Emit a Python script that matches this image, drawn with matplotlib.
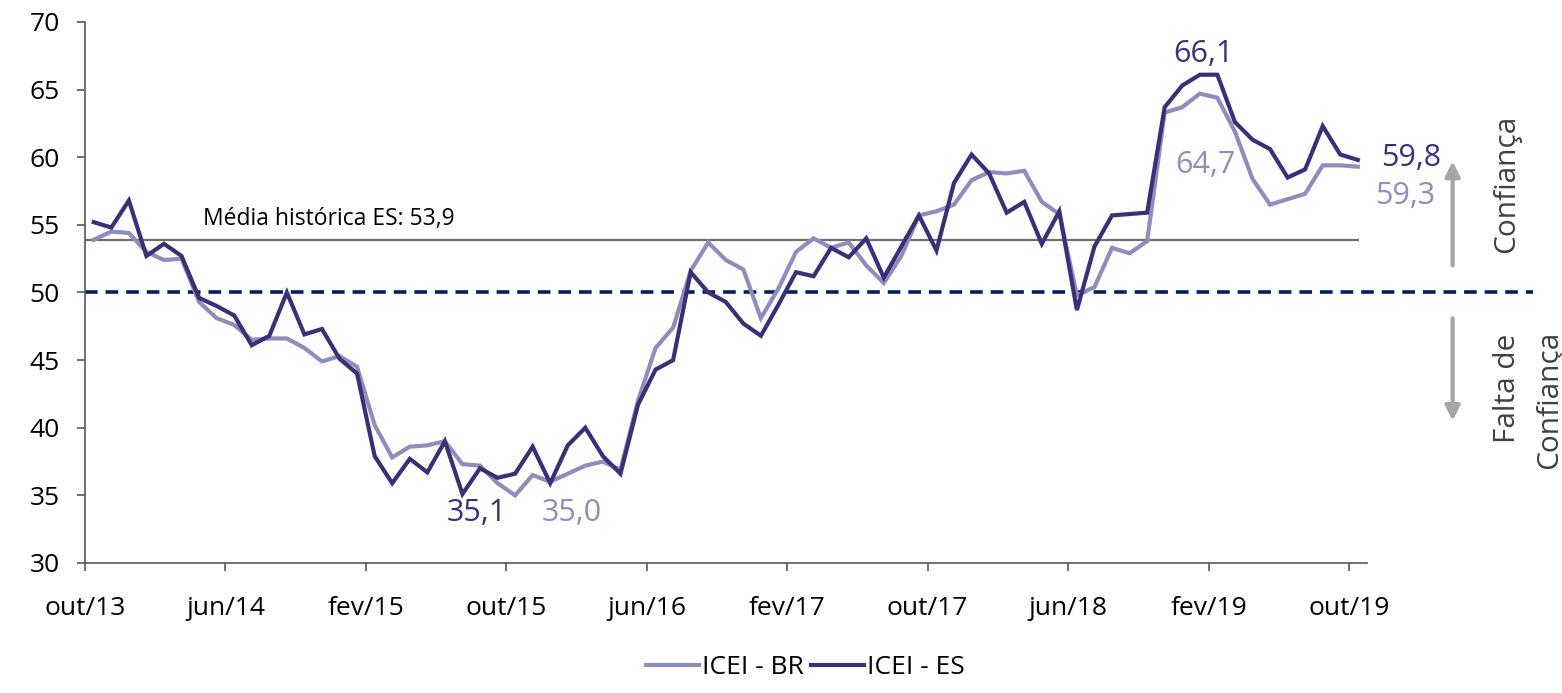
import matplotlib.pyplot as plt
import numpy as np

plt.rcParams['font.family'] = ['Open Sans', 'DejaVu Sans']

# monthly values, out/13 .. out/19
icei_br = [53.9, 54.5, 54.4, 53.0, 52.4, 52.5, 49.3, 48.1, 47.6, 46.5, 46.6, 46.6, 45.9, 44.9, 45.3,
           44.5, 40.2, 37.8, 38.6, 38.7, 39.0, 37.3, 37.2, 35.9, 35.0, 36.5, 36.0, 36.6, 37.2, 37.5,
           36.9, 42.0, 45.9, 47.4, 51.6, 53.7, 52.4, 51.7, 48.1, 50.3, 53.0, 54.0, 53.3, 53.7, 52.0,
           50.7, 52.7, 55.7, 56.0, 56.5, 58.3, 58.9, 58.8, 59.0, 56.7, 55.8, 49.8, 50.4, 53.3,
           52.9, 53.8, 63.3, 63.7, 64.7, 64.4, 61.9, 58.4, 56.5, 56.9, 57.3, 59.4, 59.4, 59.3]
icei_es = [55.2, 54.8, 56.8, 52.7, 53.6, 52.7, 49.6, 49.0, 48.3, 46.1, 46.8, 50.0, 46.9, 47.3, 45.1,
           44.0, 37.9, 35.9, 37.7, 36.7, 39.0, 35.1, 37.0, 36.3, 36.6, 38.6, 35.9, 38.7, 40.0, 37.9,
           36.6, 41.7, 44.3, 45.0, 51.5, 50.0, 49.3, 47.7, 46.8, 49.1, 51.5, 51.2, 53.3, 52.6, 54.0,
           51.1, 53.4, 55.7, 53.1, 58.1, 60.2, 58.8, 55.9, 56.7, 53.6, 56.0, 48.7, 53.4, 55.7,
           55.8, 55.9, 63.7, 65.3, 66.1, 66.1, 62.6, 61.3, 60.6, 58.5, 59.1, 62.3, 60.2, 59.8]
tick_labels = ['out/13', 'jun/14', 'fev/15', 'out/15', 'jun/16', 'fev/17', 'out/17', 'jun/18', 'fev/19', 'out/19']
media_es = 53.9
neutro = 50

c_br = '#8f8dbb'
c_es = '#3b2f78'

fig = plt.figure(figsize=(15.62, 6.93), dpi=100)
ax = fig.add_axes([0.0544, 0.1876, 0.8205, 0.7807])

x = np.arange(len(icei_es))
ax.plot(x, icei_br, color=c_br, lw=3.0, label='ICEI - BR', solid_joinstyle='miter')
ax.plot(x, icei_es, color=c_es, lw=3.0, label='ICEI - ES', solid_joinstyle='miter')

ax.plot([-0.5, 72], [media_es, media_es], color='#707070', lw=1.6, zorder=1)
ax.plot([-0.5, 82.0], [neutro, neutro], color='#002060', lw=2.6, ls=(0, (3.5, 2.2)),
        clip_on=False, zorder=1)

ax.text(6.2, 55.4, 'Média histórica ES: 53,9', fontsize=16.5, va='center', ha='left')

ax.text(63.2, 67.6, '66,1', color=c_es, fontsize=22, ha='center', va='center')
ax.text(63.3, 59.4, '64,7', color=c_br, fontsize=22, ha='center', va='center')
ax.text(73.3, 59.95, '59,8', color=c_es, fontsize=22, ha='left', va='center', clip_on=False)
ax.text(73.0, 57.1, '59,3', color=c_br, fontsize=22, ha='left', va='center', clip_on=False)
ax.text(21.8, 33.7, '35,1', color=c_es, fontsize=22, ha='center', va='center')
ax.text(27.2, 33.7, '35,0', color=c_br, fontsize=22, ha='center', va='center')

arrow = dict(arrowstyle='-|>', color='#a6a6a6', lw=3, mutation_scale=22)
ax.annotate('', xy=(77.4, 59.9), xytext=(77.4, 51.8), arrowprops=arrow, annotation_clip=False)
ax.annotate('', xy=(77.4, 40.3), xytext=(77.4, 48.3), arrowprops=arrow, annotation_clip=False)

side = dict(rotation=90, color='#404040', fontsize=21.5, ha='center', va='center', clip_on=False)
ax.text(80.5, 58.0, 'Confiança', **side)
ax.text(80.5, 42.95, 'Falta de', **side)
ax.text(82.9, 42.05, 'Confiança', **side)

ax.set_xlim(-0.5, 72.5)
ax.set_ylim(30, 70)
ax.set_yticks(np.arange(30, 71, 5))
ax.set_xticks(np.arange(0, 73, 8) - 0.5)
ax.set_xticklabels(tick_labels)
ax.tick_params(axis='both', labelsize=19, length=6, width=1.2, color='#595959')
ax.tick_params(axis='x', pad=18)
ax.tick_params(axis='y', pad=12)
for s in ['top', 'right']:
    ax.spines[s].set_visible(False)
for s in ['left', 'bottom']:
    ax.spines[s].set_color('#595959')
    ax.spines[s].set_linewidth(1.2)

ax.legend(loc='center', bbox_to_anchor=(0.562, -0.194), ncol=2, frameon=False, fontsize=19,
          handlelength=2.0, handletextpad=0.1, columnspacing=0.3)

plt.savefig('out.png', dpi=100)
